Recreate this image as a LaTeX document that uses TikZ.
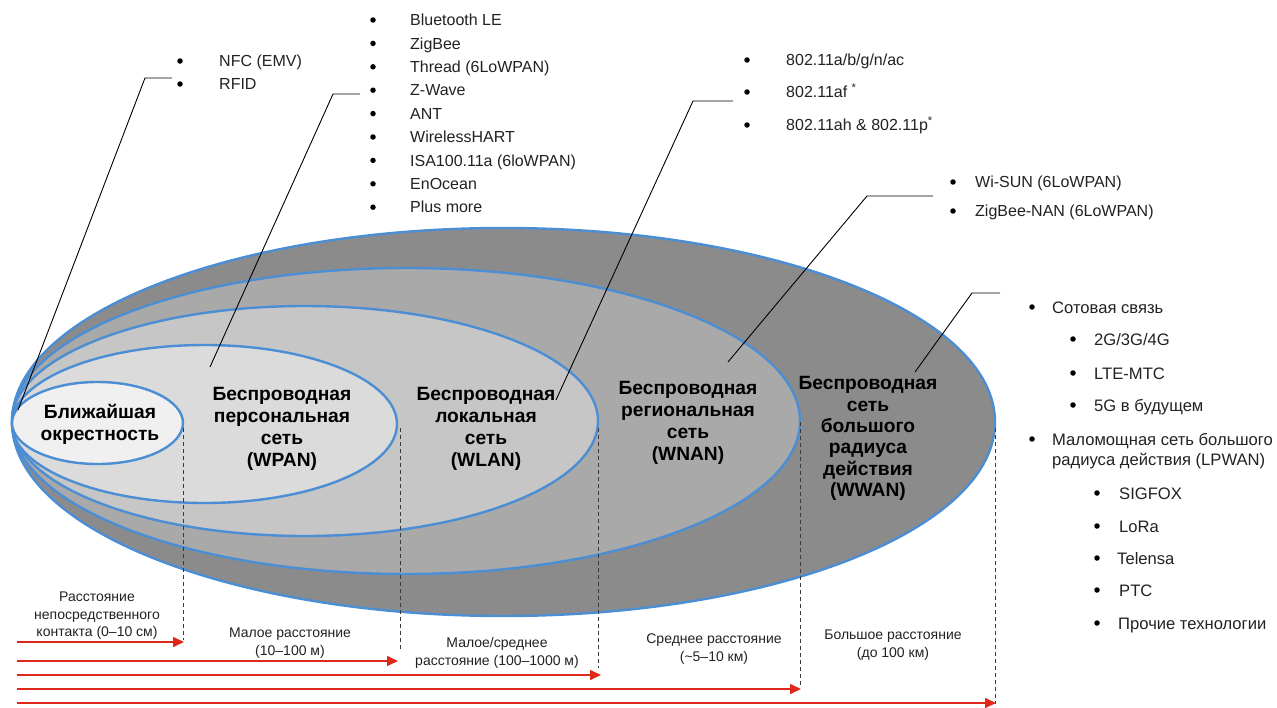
\documentclass[tikz,border=0pt]{standalone}
\usepackage{fontspec}
\setmainfont{Liberation Sans}
\usetikzlibrary{arrows.meta}
\definecolor{rblue}{HTML}{4C8ED3}
\definecolor{gWWAN}{HTML}{8B8B8B}
\definecolor{gWNAN}{HTML}{A9A9A9}
\definecolor{gWLAN}{HTML}{C6C6C6}
\definecolor{gWPAN}{HTML}{DBDBDB}
\definecolor{gNEAR}{HTML}{F0F0F0}
\definecolor{arrred}{HTML}{E0281A}
\definecolor{txtgrey}{HTML}{222222}
\definecolor{dashgrey}{HTML}{3A3A3A}
\tikzset{
 ring/.style={draw=rblue, line width=2.4pt},
 netlabel/.style={align=center, inner sep=0pt, font=\fontsize{19.2}{22}\selectfont\bfseries},
 itm/.style={anchor=west, inner sep=0pt, text height=11.5pt, text depth=0pt, font=\fontsize{16}{20}\selectfont, text=txtgrey},
 bitm/.style={itm, text height=12pt, font=\fontsize{16.6}{20}\selectfont},
 bul/.style={circle, fill=black, inner sep=0pt, minimum size=5.5pt},
 distlabel/.style={align=center, inner sep=0pt, font=\fontsize{14}{17.5}\selectfont, text=txtgrey},
 leader/.style={draw=black, line width=0.9pt},
 guide/.style={draw=dashgrey, line width=1pt, dash pattern=on 4pt off 3pt},
 distarrow/.style={draw=arrred, line width=1.6pt, -{Triangle[length=11pt,width=10pt]}},
}
\begin{document}
\begin{tikzpicture}[x=1pt,y=-1pt]
\useasboundingbox (0,0) rectangle (1277,707);
\fill[white] (0,0) rectangle (1277,707);

% nested ranges
\draw[ring, fill=gWWAN] (503.5,422) ellipse [x radius=491.5pt, y radius=194pt];
\draw[ring, fill=gWNAN] (406,421) ellipse [x radius=394pt, y radius=153pt];
\draw[ring, fill=gWLAN] (305,421) ellipse [x radius=293pt, y radius=115pt];
\draw[ring, fill=gWPAN] (204.5,424) ellipse [x radius=192.5pt, y radius=79pt];
\draw[ring, fill=gNEAR] (97.5,423) ellipse [x radius=85.5pt, y radius=41pt];

% dashed guides
\coordinate (g1t) at (183,428); \coordinate (g1b) at (183,640);
\coordinate (g2t) at (400,428); \coordinate (g2b) at (400,650);
\coordinate (g3t) at (598,428); \coordinate (g3b) at (598,668);
\coordinate (g4t) at (800,422); \coordinate (g4b) at (800,686);
\coordinate (g5t) at (995,428); \coordinate (g5b) at (995,704);
\draw[guide] (g1t) -- (g1b);
\draw[guide] (g2t) -- (g2b);
\draw[guide] (g3t) -- (g3b);
\draw[guide] (g4t) -- (g4b);
\draw[guide] (g5t) -- (g5b);

% range arrows
\coordinate (a1s) at (17,642); \coordinate (a1e) at (184,642);
\coordinate (a2s) at (17,661); \coordinate (a2e) at (398,661);
\coordinate (a3s) at (17,675); \coordinate (a3e) at (601,675);
\coordinate (a4s) at (17,689); \coordinate (a4e) at (801,689);
\coordinate (a5s) at (17,703); \coordinate (a5e) at (996,703);
\draw[distarrow] (a1s) -- (a1e);
\draw[distarrow] (a2s) -- (a2e);
\draw[distarrow] (a3s) -- (a3e);
\draw[distarrow] (a4s) -- (a4e);
\draw[distarrow] (a5s) -- (a5e);

% ellipse labels
\node[netlabel] (lnear) at (100,424) {Ближайшая\\окрестность};
\node[netlabel] (lwpan) at (282,428.5) {Беспроводная\\персональная\\сеть\\(WPAN)};
\node[netlabel] (lwlan) at (486,428.5) {Беспроводная\\локальная\\сеть\\(WLAN)};
\node[netlabel] (lwnan) at (688,422.5) {Беспроводная\\региональная\\сеть\\(WNAN)};
\node[netlabel, font=\fontsize{19.2}{21.4}\selectfont\bfseries] (lwwan) at (868,438.5) {Беспроводная\\сеть\\большого\\радиуса\\действия\\(WWAN)};

% distance labels
\node[distlabel] (d1) at (97,616) {Расстояние\\непосредственного\\контакта (0–10 см)};
\node[distlabel] (d2) at (290,643) {Малое расстояние\\(10–100 м)};
\node[distlabel] (d3) at (497,653) {Малое/среднее\\расстояние (100–1000 м)};
\node[distlabel] (d4) at (714,649) {Среднее расстояние\\(\textasciitilde5–10 км)};
\node[distlabel] (d5) at (893,645) {Большое расстояние\\(до 100 км)};

% leader lines
\coordinate (n0) at (18,410); \coordinate (n1) at (145,78); \coordinate (n2) at (172,78);
\coordinate (p0) at (210,367); \coordinate (p1) at (333,94); \coordinate (p2) at (360,94);
\coordinate (w0) at (556,400); \coordinate (w1) at (693,101); \coordinate (w2) at (733,101);
\coordinate (r0) at (728,362); \coordinate (r1) at (867,196); \coordinate (r2) at (933,196);
\coordinate (x0) at (915,372); \coordinate (x1) at (972,293); \coordinate (x2) at (1000,293);
\draw[leader] (n0) -- (n1) -- (n2);
\draw[leader] (p0) -- (p1) -- (p2);
\draw[leader] (w0) -- (w1) -- (w2);
\draw[leader] (r0) -- (r1) -- (r2);
\draw[leader] (x0) -- (x1) -- (x2);

% NFC list
\node[bul] (nb1) at (180,61) {}; \node[itm] (nt1) at (219,61) {NFC (EMV)};
\node[bul] (nb2) at (180,84) {}; \node[itm] (nt2) at (219,84) {RFID};

% WPAN list
\foreach \t [count=\i] in {{Bluetooth LE},{ZigBee},{Thread (6LoWPAN)},{Z-Wave},{ANT},{WirelessHART},{ISA100.11a (6loWPAN)},{EnOcean},{Plus more}}{
  \node[bul] (pb\i) at (373,{20+23.4*(\i-1)}) {};
  \node[itm] (pt\i) at (410,{20+23.4*(\i-1)}) {\t};
}

% WLAN list
\node[bul] (wb1) at (747,60) {}; \node[itm] (wt1) at (786,60) {802.11a/b/g/n/ac};
\node[bul] (wb2) at (747,92) {}; \node[itm] (wt2) at (786,92) {802.11af \textsuperscript{*}};
\node[bul] (wb3) at (747,125) {}; \node[itm] (wt3) at (786,125) {802.11ah \& 802.11p\textsuperscript{*}};

% WNAN list
\node[bul] (sb1) at (953,182) {}; \node[itm] (st1) at (975,182) {Wi-SUN (6LoWPAN)};
\node[bul] (sb2) at (953,211) {}; \node[itm] (st2) at (975,211) {ZigBee-NAN (6LoWPAN)};

% WWAN list
\node[bul] (cb1) at (1032,307) {}; \node[bitm] (ct1) at (1052,307) {Сотовая связь};
\node[bul] (cb2) at (1073,339) {}; \node[bitm] (ct2) at (1094,339) {2G/3G/4G};
\node[bul] (cb3) at (1073,373) {}; \node[bitm] (ct3) at (1094,373) {LTE-MTC};
\node[bul] (cb4) at (1073,405) {}; \node[bitm] (ct4) at (1094,405) {5G в будущем};
\node[bul] (cb5) at (1032,439) {}; \node[bitm] (ct5) at (1052,439) {Маломощная сеть большого};
\node[bitm] (ct5b) at (1052,459) {радиуса действия (LPWAN)};
\node[bul] (lb1) at (1097,493) {}; \node[bitm] (lt1) at (1119,493) {SIGFOX};
\node[bul] (lb2) at (1097,526) {}; \node[bitm] (lt2) at (1119,526) {LoRa};
\node[bul] (lb3) at (1097,558) {}; \node[bitm] (lt3) at (1117,558) {Telensa};
\node[bul] (lb4) at (1097,590) {}; \node[bitm] (lt4) at (1119,590) {PTC};
\node[bul] (lb5) at (1097,623) {}; \node[bitm] (lt5) at (1118,623) {Прочие технологии};
\end{tikzpicture}
\end{document}
